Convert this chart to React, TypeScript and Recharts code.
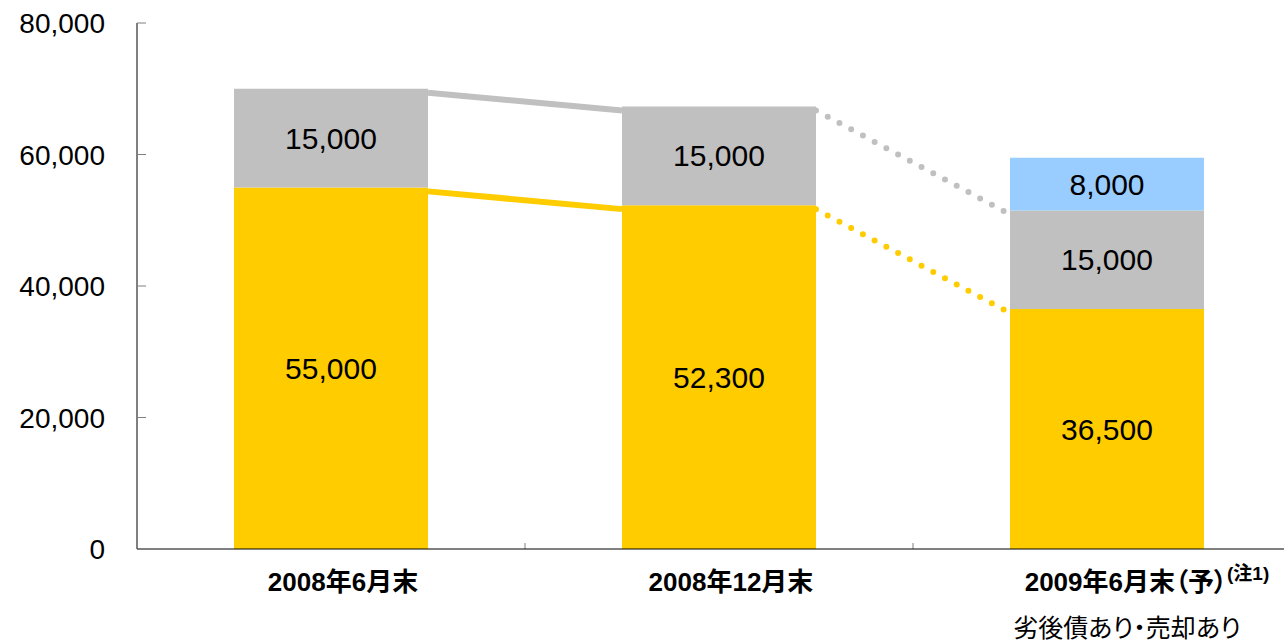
import React from "react";
import { BarChart, Bar, XAxis, YAxis, ReferenceLine, LabelList } from "recharts";

const periods = ["2008年6月末", "2008年12月末", "2009年6月末（予）"];
const seniorDebt = [55000, 52300, 36500];
const subordinated = [15000, 15000, 15000];
const saleProceeds = [null, null, 8000];
const yTicks = [0, 20000, 40000, 60000, 80000];
const noteMark = "(注1)";
const subCaption = "劣後債あり・売却あり";

const YELLOW = "#FFCC00";
const GRAY = "#C0C0C0";
const BLUE = "#99CCFF";
const FONT = "'Liberation Sans', Arial, 'Noto Sans CJK JP', sans-serif";

const rows = periods.map((period, i) => ({
  period,
  senior: seniorDebt[i],
  sub: subordinated[i],
  sale: saleProceeds[i],
}));

// top of the gray block (senior + subordinated) for each period
const totals = seniorDebt.map((v, i) => v + subordinated[i]);

const fmt = (v: any) => (v == null ? "" : Number(v).toLocaleString("en-US"));

const YTick = (props: any) => {
  const { x, y, payload } = props;
  return (
    <g>
      <line x1={x} x2={x + 9} y1={y} y2={y} stroke="#808080" />
      <text x={x - 32} y={y + 10} textAnchor="end" fontSize={28} fill="#000" fontFamily={FONT}>
        {fmt(payload.value)}
      </text>
    </g>
  );
};

const XTick = (props: any) => {
  const { x, y, payload, index } = props;
  const style = { fontFeatureSettings: '"palt"' } as any;
  if (index === 2) {
    return (
      <g>
        <text x={x + 120} y={y + 42} textAnchor="end" fontSize={26} fontWeight="bold" fill="#000" fontFamily={FONT} style={style}>
          {payload.value}
        </text>
        <text x={x + 120} y={y + 31} textAnchor="start" fontSize={19} fontWeight="bold" fill="#000" fontFamily={FONT}>
          {noteMark}
        </text>
        <text x={x + 20} y={y + 88} textAnchor="middle" fontSize={25} fill="#000" fontFamily={FONT} style={style}>
          {subCaption}
        </text>
      </g>
    );
  }
  return (
    <text x={x + 12} y={y + 42} textAnchor="middle" fontSize={26} fontWeight="bold" fill="#000" fontFamily={FONT} style={style}>
      {payload.value}
    </text>
  );
};

// segment runs centre to centre; bars fill half the band, so trim a quarter band
// at each end and drop it a little so its upper edge sits on the bar top
const connector = (p: any) => {
  const dx = (p.x2 - p.x1) * 0.25;
  return (
    <line
      x1={p.x1 + dx}
      y1={p.y1 + 4}
      x2={p.x2 - dx}
      y2={p.y2 + 4}
      stroke={p.stroke}
      strokeWidth={p.strokeWidth}
      strokeDasharray={p.strokeDasharray}
      strokeLinecap={p.strokeLinecap}
      fill="none"
    />
  );
};

// small inward tick half way between two categories
const bandTick = (p: any) => {
  const xm = (p.x1 + p.x2) / 2;
  return <line x1={xm} x2={xm} y1={p.y1} y2={p.y1 - 6} stroke="#808080" />;
};

export default function App() {
  return (
    <div style={{ position: "absolute", left: 0, top: 0, width: 1284, height: 641, overflow: "hidden", background: "#fff" }}>
      <BarChart
        width={1310}
        height={641}
        data={rows}
        margin={{ top: 23, right: 9, bottom: 0, left: 0 }}
        barCategoryGap="25%"
        style={{ fontFamily: FONT }}
      >
        <XAxis dataKey="period" height={92} tickSize={0} tickMargin={0} stroke="#000" tick={<XTick />} interval={0} />
        <YAxis
          width={137}
          domain={[0, 80000]}
          ticks={yTicks}
          tickSize={0}
          tickMargin={0}
          stroke="#000"
          tick={<YTick />}
          interval={0}
        />
        <Bar dataKey="senior" stackId="a" fill={YELLOW} isAnimationActive={false}>
          <LabelList dataKey="senior" position="center" formatter={fmt} fill="#000" fontSize={30} />
        </Bar>
        <Bar dataKey="sub" stackId="a" fill={GRAY} isAnimationActive={false}>
          <LabelList dataKey="sub" position="center" formatter={fmt} fill="#000" fontSize={30} />
        </Bar>
        <Bar dataKey="sale" stackId="a" fill={BLUE} isAnimationActive={false}>
          <LabelList dataKey="sale" position="center" formatter={fmt} fill="#000" fontSize={30} />
        </Bar>
        {[0, 1].map((i) => (
          <ReferenceLine
            key={`bt${i}`}
            segment={[
              { x: periods[i], y: 0 },
              { x: periods[i + 1], y: 0 },
            ]}
            shape={bandTick}
          />
        ))}
        {[0, 1].map((i) => (
          <ReferenceLine
            key={`g${i}`}
            segment={[
              { x: periods[i], y: totals[i] },
              { x: periods[i + 1], y: totals[i + 1] },
            ]}
            stroke={GRAY}
            strokeWidth={i === 0 ? 6 : 6}
            strokeDasharray={i === 0 ? undefined : "0 13.3"}
            strokeLinecap={i === 0 ? "butt" : "round"}
            shape={connector}
          />
        ))}
        {[0, 1].map((i) => (
          <ReferenceLine
            key={`y${i}`}
            segment={[
              { x: periods[i], y: seniorDebt[i] },
              { x: periods[i + 1], y: seniorDebt[i + 1] },
            ]}
            stroke={YELLOW}
            strokeWidth={i === 0 ? 6 : 6}
            strokeDasharray={i === 0 ? undefined : "0 13.3"}
            strokeLinecap={i === 0 ? "butt" : "round"}
            shape={connector}
          />
        ))}
      </BarChart>
    </div>
  );
}
